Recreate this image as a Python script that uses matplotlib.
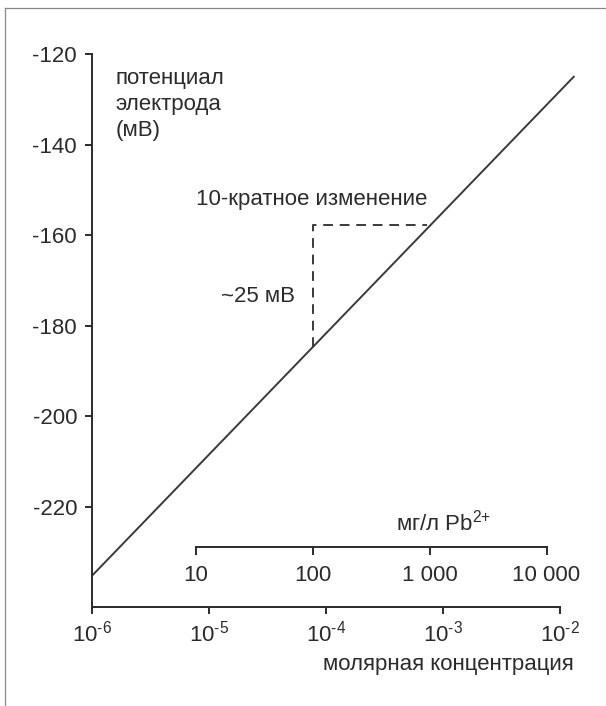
import matplotlib
matplotlib.use("Agg")
import matplotlib.pyplot as plt
from matplotlib.lines import Line2D
from matplotlib.ticker import NullLocator

plt.rcParams['font.family'] = ['Liberation Sans', 'DejaVu Sans']
plt.rcParams['mathtext.fontset'] = 'custom'
plt.rcParams['mathtext.rm'] = 'Liberation Sans'
plt.rcParams['mathtext.it'] = 'Liberation Sans:italic'
plt.rcParams['mathtext.default'] = 'regular'

# electrode response line (molar concentration -> potential, mV)
conc_ends = [1e-6, 10 ** -1.877]
potential_ends = [-235.2, -124.8]

# dashed step: one decade of concentration, ~25 mV
step_conc = [10 ** -4.109, 10 ** -4.109, 10 ** -3.139]
step_mv = [-184.6, -157.7, -157.7]

y_ticks = [-120, -140, -160, -180, -200, -220]
x_ticks = [1e-6, 1e-5, 1e-4, 1e-3, 1e-2]
x_labels = [r'$10^{\text{-6}}$', r'$10^{\text{-5}}$', r'$10^{\text{-4}}$',
            r'$10^{\text{-3}}$', r'$10^{\text{-2}}$']

# second scale, mg/l Pb2+
mgl_ticks = [10, 100, 1000, 10000]
mgl_labels = ['10', '100', '1 000', '10 000']
mol_per_mgl = 10 ** -6.115
mgl_axis_mv = -228.8

ink = '#2b2b2b'
fs = 16

fig = plt.figure(figsize=(6.06, 7.06), dpi=100)
ax = fig.add_axes([0.1523, 0.1407, 0.7718, 0.7823])

ax.plot(conc_ends, potential_ends, color='#3a3a3a', lw=1.4,
        solid_capstyle='butt', clip_on=False)
ax.plot(step_conc, step_mv, color='#3a3a3a', lw=1.4, dashes=(5, 3.5))

ax.set_xscale('log')
ax.set_xlim(1e-6, 1e-2)
ax.set_ylim(-242.1, -120)
ax.set_xticks(x_ticks, labels=x_labels)
ax.xaxis.set_minor_locator(NullLocator())
ax.set_yticks(y_ticks, labels=[str(v) for v in y_ticks])

for s in ['top', 'right']:
    ax.spines[s].set_visible(False)
for s in ['left', 'bottom']:
    ax.spines[s].set_linewidth(1.4)
    ax.spines[s].set_color(ink)
ax.tick_params(axis='both', colors=ink, labelcolor=ink, labelsize=fs,
               width=1.4, length=5)
ax.tick_params(axis='y', pad=6)
ax.tick_params(axis='x', pad=5)

# mg/l axis drawn inside the plot
loc = (mgl_axis_mv - (-242.1)) / (-120 - (-242.1))
sec = ax.secondary_xaxis(loc, functions=(lambda m: m / mol_per_mgl,
                                         lambda g: g * mol_per_mgl))
sec.set_xticks(mgl_ticks, labels=mgl_labels)
sec.xaxis.set_minor_locator(NullLocator())
for s in ['top', 'bottom']:
    sec.spines[s].set_bounds(mgl_ticks[0], mgl_ticks[-1])
    sec.spines[s].set_linewidth(1.4)
    sec.spines[s].set_color(ink)
sec.tick_params(colors=ink, labelcolor=ink, labelsize=fs, width=1.4,
                length=6, pad=7)

ax.text(0.0496, 0.976, 'потенциал\nэлектрода\n(мВ)', transform=ax.transAxes,
        ha='left', va='top', fontsize=fs, color=ink, linespacing=1.33)
ax.text(0.4687, 0.7364, '10-кратное изменение', transform=ax.transAxes,
        ha='center', va='center', fontsize=fs, color=ink)
ax.text(0.4334, 0.5613, '~25 мВ', transform=ax.transAxes,
        ha='right', va='center', fontsize=fs, color=ink)
ax.text(0.752, 0.153, r'мг/л Pb$^{\text{2+}}$', transform=ax.transAxes,
        ha='center', va='center', fontsize=fs, color=ink)
ax.text(1.0301, -0.1056, 'молярная концентрация', transform=ax.transAxes,
        ha='right', va='center', fontsize=fs, color=ink)

# thin frame around the figure (top and left edge)
fig.add_artist(Line2D([0.009, 1.0], [0.988, 0.988], color='#888888', lw=0.9))
fig.add_artist(Line2D([0.009, 0.009], [0.0, 0.988], color='#888888', lw=0.9))

plt.savefig('out.png', dpi=100)
